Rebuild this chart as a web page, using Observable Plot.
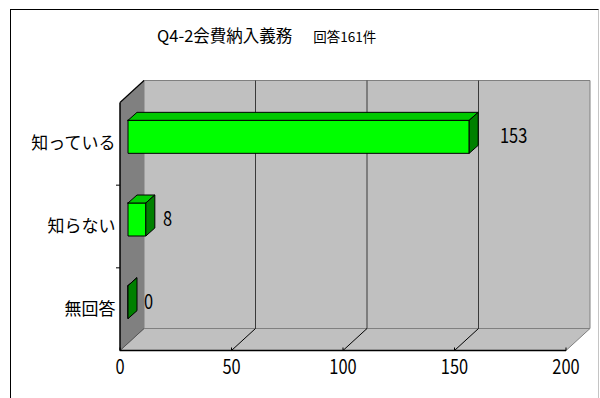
<!DOCTYPE html>
<html>
<head>
<meta charset="utf-8">
<script src="https://cdn.jsdelivr.net/npm/d3@7"></script>
<script src="https://cdn.jsdelivr.net/npm/@observablehq/plot@0.6"></script>
<style>
  body { margin: 0; background: #fff; }
  #chart { position: relative; width: 600px; height: 398px; overflow: hidden;
           font-family: "Noto Sans CJK JP", sans-serif; color: #000; }
  #chart svg { position: absolute; left: 0; top: 0; }
  #frame { position: absolute; left: 10px; top: 9px; width: 587px; height: 420px;
           border-left: 1.5px solid #000; border-top: 1.5px solid #000;
           border-right: 1px solid #c4c4c4; pointer-events: none; z-index: 2; }
  #title { position: absolute; left: 157px; top: 23px; white-space: nowrap; z-index: 3; }
  #title .main { font-size: 16.5px; }
  #title .sub { font-size: 13.5px; margin-left: 21px; }
</style>
</head>
<body>
<div id="chart">
  <div id="frame"></div>
  <div id="title"><span class="main"></span><span class="sub"></span></div>
</div>
<script>
// Survey answers: do members know about the obligation to pay fees?
const categories = ["知っている", "知らない", "無回答"];
const counts = [153, 8, 0];
const xTicks = [0, 50, 100, 150, 200];
const xDomain = [0, 200];
const titleMain = "Q4-2会費納入義務";
const titleSub = "回答161件";

document.querySelector("#title .main").textContent = titleMain;
document.querySelector("#title .sub").textContent = titleSub;

const numSize = 20;      // numbers are drawn tall, then squeezed horizontally
const numSqueeze = 0.82;

const W = 600, H = 398;
const margin = {top: 102, right: 34.5, bottom: 48, left: 119.5};
const kx = (W - margin.left - margin.right) / (xDomain[1] - xDomain[0]); // px per count
const ky = (H - margin.top - margin.bottom) / categories.length;         // px per category band

// pixel offsets that give the box and the bars their depth
const wallDepth = [24, -22];
const barShift = [8, -7];
const barDepth = [9, -8];
const barHalf = 16.5;

// a point in data space, nudged by a pixel offset
const at = (x, y, [dx, dy] = [0, 0]) => ({x: x + dx / kx, y: y + dy / ky});
const add = ([a, b], [c, d]) => [a + c, b + d];

let polyId = 0;
function polygon(points) {
  const id = polyId++;
  return [...points, points[0]].map(p => ({...p, id}));
}

const x0 = xDomain[0], x1 = xDomain[1];
const y0 = 0, y1 = categories.length;

const backWall = polygon([at(x0, y0, wallDepth), at(x1, y0, wallDepth), at(x1, y1, wallDepth), at(x0, y1, wallDepth)]);
const sideWall = polygon([at(x0, y0), at(x0, y0, wallDepth), at(x0, y1, wallDepth), at(x0, y1)]);
const floor = polygon([at(x0, y1), at(x1, y1), at(x1, y1, wallDepth), at(x0, y1, wallDepth)]);

const seg = (a, b) => ({x1: a.x, y1: a.y, x2: b.x, y2: b.y});
const gridTicks = xTicks.filter(t => t > x0 && t < x1);
const backGrid = gridTicks.map(t => seg(at(t, y0, wallDepth), at(t, y1, wallDepth)));
const floorGrid = gridTicks.map(t => seg(at(t, y1), at(t, y1, wallDepth)));

// bar faces
const rows = categories.map((name, i) => ({name, value: counts[i], i}));
const fronts = [], tops = [], sides = [];
for (const {value: v, i} of rows) {
  const yc = i + 0.5;
  const T = [barShift[0], barShift[1] - barHalf];
  const B = [barShift[0], barShift[1] + barHalf];
  const TD = add(T, barDepth), BD = add(B, barDepth);
  fronts.push(...polygon([at(0, yc, T), at(v, yc, T), at(v, yc, B), at(0, yc, B)]));
  tops.push(...polygon([at(0, yc, T), at(v, yc, T), at(v, yc, TD), at(0, yc, TD)]));
  sides.push(...polygon([at(v, yc, T), at(v, yc, TD), at(v, yc, BD), at(v, yc, B)]));
}

// value labels sit just past the end of each bar
const labelX = v => v * 1.07 + 12.8;

const face = (data, fill, stroke, strokeWidth = 1) =>
  Plot.line(data, {x: "x", y: "y", z: "id", fill, stroke, strokeWidth, strokeLinejoin: "miter"});
const links = (data, stroke, strokeWidth = 1) =>
  Plot.link(data, {x1: "x1", y1: "y1", x2: "x2", y2: "y2", stroke, strokeWidth});

const chart = Plot.plot({
  width: W,
  height: H,
  marginTop: margin.top,
  marginRight: margin.right,
  marginBottom: margin.bottom,
  marginLeft: margin.left,
  x: {domain: xDomain, label: null},
  y: {domain: [y0, y1], reverse: true, label: null},
  style: {fontFamily: "'Noto Sans CJK JP', sans-serif", fontSize: "17px", color: "#000", background: "transparent"},
  marks: [
    face(backWall, "#c0c0c0", "#808080"),
    face(floor, "#c0c0c0", "#808080"),
    face(sideWall, "#808080", "none"),
    links(backGrid, "#3a3a3a"),
    links(floorGrid, "#000"),
    links([seg(at(x0, y1), at(x0, y1, wallDepth))], "#555"),
    // front edges of the box
    links([seg(at(x0, y0), at(x0, y0, wallDepth))], "#000", 1.2),
    links([seg(at(x0, y0), at(x0, y1))], "#000", 1.5),
    links([seg(at(x0, y1), at(x1, y1))], "#000", 1.5),
    // tick marks
    links(xTicks.map(t => seg(at(t, y1), at(t, y1, [0, -3]))), "#000"),
    links([1, 2].map(c => seg(at(x0, c, [-4, 0]), at(x0, c))), "#000"),
    // bars
    face(fronts, "#00ff00", "#000"),
    face(tops, "#00c800", "#000"),
    face(sides, "#008000", "#000"),
    // labels
    Plot.text(rows, {x: d => labelX(d.value), y: d => d.i + 0.5 + barShift[1] / ky, text: d => String(d.value),
                     textAnchor: "middle", fontSize: numSize, fill: "#000"}),
    Plot.axisX({ticks: xTicks, tickSize: 0, tickPadding: 9, fontSize: numSize}),
    Plot.axisY({ticks: categories.map((_, i) => i + 0.5), tickFormat: t => categories[Math.floor(t)],
                tickSize: 0, tickPadding: 4.5, fontSize: 17})
  ]
});

document.getElementById("chart").appendChild(chart);

// squeeze the numeric labels so the digits come out tall and narrow
d3.select(chart)
  .selectAll("g[aria-label='x-axis tick label'] text, g[aria-label='text'] text")
  .each(function () {
    const w = this.getComputedTextLength();
    if (w > 0) {
      this.setAttribute("textLength", w * numSqueeze);
      this.setAttribute("lengthAdjust", "spacingAndGlyphs");
    }
  });
</script>
</body>
</html>
